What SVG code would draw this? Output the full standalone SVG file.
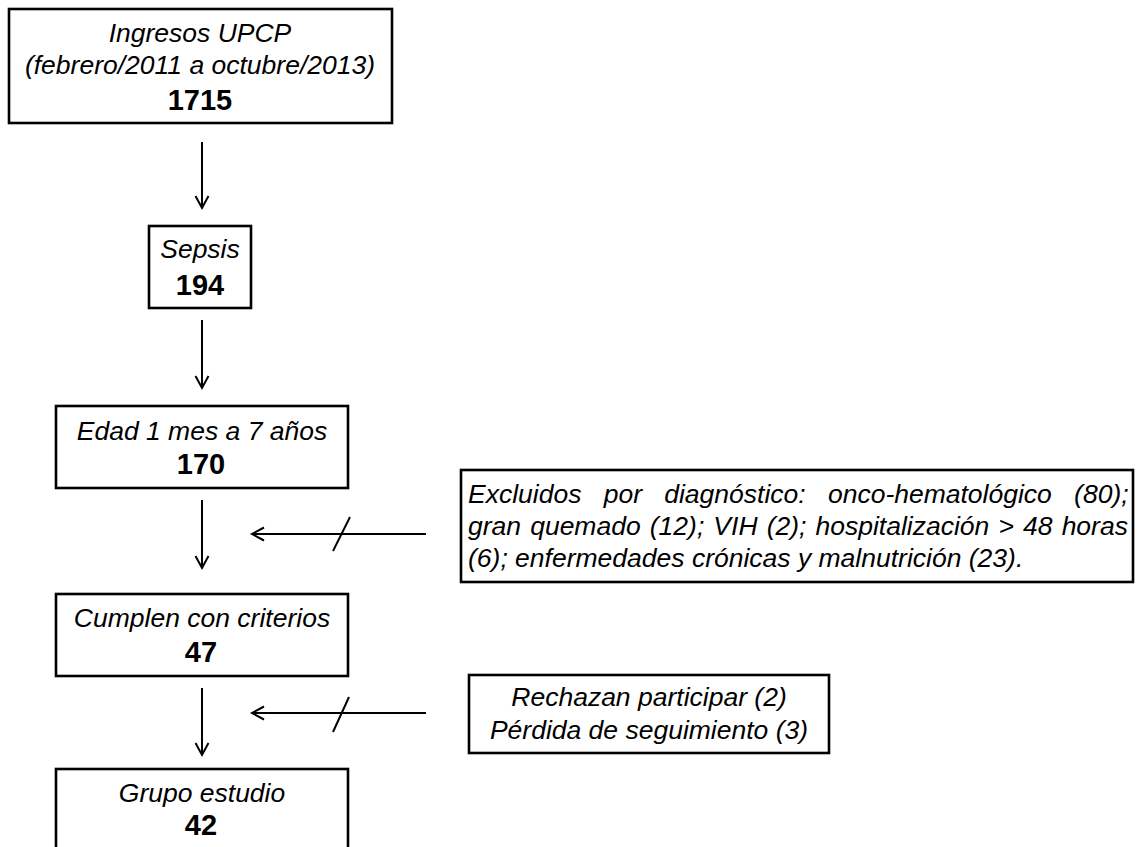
<svg xmlns="http://www.w3.org/2000/svg" width="1138" height="847" viewBox="0 0 1138 847">
<style>
.box{fill:#fff;stroke:#000;stroke-width:2.6}
.t{font-family:"Liberation Sans",Arial,sans-serif;font-style:italic;font-size:26.5px;fill:#000}
.n{font-family:"Liberation Sans",Arial,sans-serif;font-weight:bold;font-size:29px;fill:#000}
.c{text-anchor:middle}
.ln{stroke:#000;stroke-width:2;fill:none}
</style>
<defs>
<marker id="ah" markerUnits="userSpaceOnUse" markerWidth="16" markerHeight="16" refX="13" refY="7.5" orient="auto">
<path d="M1,1 L13,7.5 L1,14" fill="none" stroke="#000" stroke-width="2"/>
</marker>
</defs>
<g id="connectors">
<line class="ln" x1="202" y1="142" x2="202" y2="208" marker-end="url(#ah)"/>
<line class="ln" x1="202" y1="320" x2="202" y2="388" marker-end="url(#ah)"/>
<line class="ln" x1="202" y1="500" x2="202" y2="568" marker-end="url(#ah)"/>
<line class="ln" x1="202" y1="688" x2="202" y2="755" marker-end="url(#ah)"/>
<line class="ln" x1="426" y1="534" x2="252" y2="534" marker-end="url(#ah)"/>
<line class="ln" x1="350" y1="517" x2="333" y2="551"/>
<line class="ln" x1="426" y1="713" x2="252" y2="713" marker-end="url(#ah)"/>
<line class="ln" x1="349" y1="697" x2="333" y2="732"/>
</g>
<g id="ingresos">
<rect class="box" x="9" y="9" width="383" height="114"/>
<text class="t c" x="200" y="42">Ingresos UPCP</text>
<text class="t c" x="200" y="74">(febrero/2011 a octubre/2013)</text>
<text class="n c" x="200" y="110">1715</text>
</g>
<g id="sepsis">
<rect class="box" x="149" y="226" width="102" height="82"/>
<text class="t c" x="200" y="258">Sepsis</text>
<text class="n c" x="200" y="295">194</text>
</g>
<g id="edad">
<rect class="box" x="56" y="406" width="292" height="82"/>
<text class="t c" x="202" y="440">Edad 1 mes a 7 años</text>
<text class="n c" x="201" y="474">170</text>
</g>
<g id="cumplen">
<rect class="box" x="56" y="594" width="292" height="82"/>
<text class="t c" x="202" y="627">Cumplen con criterios</text>
<text class="n c" x="201" y="662">47</text>
</g>
<g id="grupo">
<rect class="box" x="56" y="769" width="292" height="100"/>
<text class="t c" x="202" y="802">Grupo estudio</text>
<text class="n c" x="201" y="835">42</text>
</g>
<g id="excluidos">
<rect class="box" x="461" y="470" width="672" height="112"/>
<text class="t" x="468" y="503" word-spacing="14.9">Excluidos por diagnóstico: onco-hematológico (80);</text>
<text class="t" x="468" y="535" word-spacing="1.75">gran quemado (12); VIH (2); hospitalización &gt; 48 horas</text>
<text class="t" x="468" y="567">(6); enfermedades crónicas y malnutrición (23).</text>
</g>
<g id="rechazan">
<rect class="box" x="469" y="675" width="360" height="78"/>
<text class="t c" x="649" y="706">Rechazan participar (2)</text>
<text class="t c" x="649" y="739">Pérdida de seguimiento (3)</text>
</g>
</svg>
